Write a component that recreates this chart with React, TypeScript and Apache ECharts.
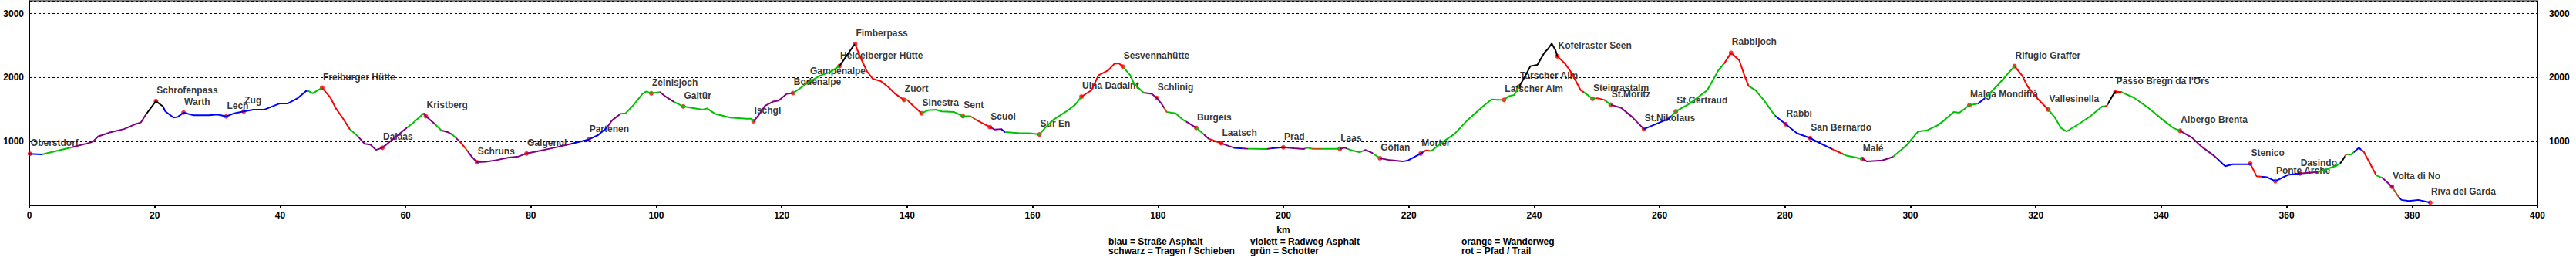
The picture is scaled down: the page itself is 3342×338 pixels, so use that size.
import React, { useEffect, useRef } from 'react';
import * as echarts from 'echarts';

// Elevation profile (km, m)
const profileKm = [
  0, 2.0, 6.8, 10.1, 11.0, 11.6, 12.7, 15.1, 16.9, 17.8, 18.6, 20.2, 21.3, 21.7, 23.0, 23.7, 24.6, 26.1, 28.7, 30.0,
  31.4, 32.7, 34.2, 35.7, 37.5, 39.9, 41.2, 42.8, 44.3, 45.2, 46.7, 48.0, 48.9, 50.0, 51.1, 52.4, 53.5, 54.4, 55.3, 56.3,
  60.2, 61.2, 62.9, 63.25, 64.6, 65.7, 66.8, 67.5, 68.6, 69.5, 70.6, 71.4, 72.8, 74.5, 76.3, 78.0, 79.3, 80.7, 83.7, 86.4,
  89.2, 90.7, 92.1, 92.9, 94.3, 95.1, 96.4, 97.8, 98.4, 99.2, 100.6, 101.5, 102.8, 104.3, 105.7, 107.4, 108.1, 109.4, 111.8, 114.4,
  115.2, 115.5, 116.4, 117.3, 118.6, 119.5, 120.8, 121.8, 122.5, 124.4, 126.2, 127.5, 129.2, 131.4, 131.7, 132.5, 133.6, 134.5, 135.8, 136.9,
  138.0, 139.5, 140.0, 140.9, 142.3, 143.3, 144.6, 145.5, 147.5, 148.9, 150.1, 151.2, 153.2, 154.0, 155.0, 155.6, 158.0, 159.5, 161.1, 162.1,
  163.4, 165.4, 166.8, 167.8, 169.4, 170.5, 172.1, 173.1, 173.8, 174.4, 175.6, 176.2, 177.7, 179.0, 179.8, 180.6, 181.4, 182.8, 183.9, 185.0,
  186.1, 187.0, 188.1, 190.1, 192.1, 194.1, 197.3, 198.2, 200.0, 201.7, 203.2, 203.9, 204.7, 206.1, 209.0, 209.8, 210.9, 212.2, 213.1, 214.2,
  215.4, 217.0, 219.0, 219.9, 221.9, 222.7, 223.6, 225.4, 227.3, 229.3, 231.9, 233.2, 234.1, 235.2, 235.9, 236.8, 237.6, 238.5, 239.4, 240.5,
  241.6, 242.2, 242.8, 243.4, 243.7, 244.9, 245.8, 246.7, 247.4, 248.0, 249.3, 250.1, 251.2, 252.2, 253.9, 255.6, 257.5, 260.0, 261.5, 262.6,
  264.8, 267.6, 269.4, 270.3, 271.4, 272.7, 273.6, 274.2, 275.3, 276.6, 278.4, 280.1, 281.9, 284.0, 285.8, 288.0, 289.8, 292.3, 293.1, 295.5,
  297.2, 299.4, 301.2, 302.7, 304.3, 305.1, 306.9, 307.8, 309.4, 310.8, 311.9, 313.9, 316.6, 317.8, 318.7, 320.1, 322.0, 323.1, 324.0, 324.9,
  327.1, 328.8, 330.6, 331.3, 332.3, 332.7, 333.6, 333.8, 335.6, 337.8, 340.4, 341.9, 343.0, 344.9, 346.4, 348.4, 349.1, 350.2, 351.4, 353.9,
  354.2, 355.2, 356.9, 358.2, 360.2, 362.1, 365.0, 368.0, 368.7, 369.5, 370.3, 371.5, 372.3, 373.3, 374.3, 375.3, 376.8, 377.8, 378.3, 379.5,
  381.0, 382.9
];
const profileElev = [
  807, 798, 909, 992, 1080, 1099, 1137, 1194, 1270, 1297, 1422, 1631, 1548, 1471, 1373, 1384, 1452, 1411, 1411, 1422,
  1392, 1441, 1471, 1498, 1498, 1593, 1593, 1677, 1802, 1753, 1840, 1688, 1517, 1365, 1194, 1080, 963, 951, 868, 901,
  1213, 1289, 1441, 1395, 1281, 1175, 1144, 1106, 1004, 901, 757, 675, 683, 708, 745, 765, 811, 840, 901, 963,
  1030, 1099, 1213, 1327, 1433, 1441, 1574, 1745, 1783, 1753, 1772, 1700, 1620, 1548, 1525, 1498, 1517, 1430, 1373, 1354,
  1354, 1316, 1422, 1555, 1624, 1639, 1745, 1757, 1802, 1935, 2033, 2075, 2178, 2490, 2523, 2324, 2095, 1981, 1943, 1859,
  1753, 1650, 1650, 1563, 1441, 1487, 1498, 1471, 1460, 1395, 1395, 1327, 1224, 1186, 1194, 1148, 1129, 1129, 1110, 1224,
  1346, 1471, 1574, 1700, 1802, 2033, 2116, 2220, 2220, 2170, 2033, 1901, 1764, 1745, 1681, 1586, 1460, 1441, 1346, 1281,
  1213, 1137, 1042, 971, 901, 889, 881, 893, 909, 893, 881, 901, 885, 885, 885, 901, 860, 831, 868, 819,
  737, 708, 687, 704, 811, 860, 852, 992, 1118, 1327, 1555, 1658, 1650, 1650, 1707, 1726, 1859, 2012, 2178, 2199,
  2386, 2448, 2531, 2427, 2332, 2220, 2095, 1935, 1802, 1764, 1669, 1677, 1650, 1574, 1525, 1384, 1194, 1296, 1357, 1471,
  1593, 1802, 2116, 2220, 2386, 2270, 2012, 1867, 1802, 1650, 1403, 1270, 1129, 1053, 963, 860, 778, 728, 687, 704,
  757, 942, 1156, 1175, 1251, 1308, 1460, 1449, 1567, 1593, 1677, 1878, 2178, 2033, 1859, 1688, 1498, 1365, 1213, 1156,
  1289, 1403, 1548, 1555, 1726, 1776, 1776, 1764, 1688, 1536, 1327, 1213, 1167, 1061, 922, 778, 716, 613, 642, 642,
  654, 457, 440, 379, 477, 498, 523, 621, 675, 798, 798, 901, 839, 654, 469, 428, 292, 140, 86, 70,
  86, 45
];

// Surface type changes (start km, type code)
const surfaceFromKm = [
  0, 2.0, 6.8, 18.6, 21.5, 44.3, 46.7, 51.1, 52.4, 60.2, 62.9, 64.6, 65.7, 67.5, 68.0, 68.6, 69.5, 70.0, 86.4, 92.1,
  94.3, 100.6, 102.8, 115.5, 121.8, 129.2, 131.7, 139.5, 140.2, 142.3, 150.0, 151.2, 153.2, 155.0, 155.6, 167.8, 174.4, 177.7, 180.9, 181.4,
  184.5, 186.1, 187.3, 188.1, 190.1, 192.1, 193.3, 194.3, 197.4, 198.2, 200.3, 203.5, 204.5, 206.1, 209.0, 210.2, 212.8, 214.3, 215.4, 219.6,
  222.2, 223.4, 237.6, 243.7, 248.0, 249.8, 251.2, 252.2, 257.5, 261.8, 270.3, 274.2, 278.4, 287.5, 289.4, 292.3, 297.2, 310.8, 311.9, 316.6,
  322.0, 331.0, 331.6, 332.7, 333.6, 343.0, 348.8, 354.2, 356.0, 362.1, 365.0, 368.5, 369.3, 369.8, 370.7, 371.9, 374.3, 375.2, 377.0, 378.0
];
const surfaceType = [
  'b', 'g', 'v', 'k', 'b', 'g', 'r', 'g', 'v', 'g', 'v', 'g', 'v', 'g', 'v', 'r', 'o', 'v', 'b', 'v',
  'g', 'v', 'g', 'v', 'g', 'k', 'r', 'g', 'r', 'g', 'o', 'r', 'v', 'b', 'g', 'r', 'g', 'v', 'o', 'g',
  'v', 'g', 'v', 'r', 'v', 'b', 'v', 'g', 'v', 'b', 'v', 'g', 'o', 'g', 'v', 'g', 'v', 'g', 'v', 'b',
  'r', 'g', 'k', 'r', 'g', 'r', 'g', 'v', 'b', 'g', 'r', 'g', 'b', 'r', 'g', 'v', 'g', 'b', 'g', 'r',
  'g', 'r', 'k', 'r', 'g', 'v', 'b', 'r', 'b', 'v', 'g', 'k', 'o', 'g', 'b', 'r', 'g', 'v', 'o', 'b'
];

// Waypoints
const placeNames = [
  'Oberstdorf', 'Schrofenpass', 'Warth', 'Lech', 'Zug', 'Freiburger Hütte', 'Dalaas', 'Kristberg', 'Schruns', 'Galgenul',
  'Partenen', 'Zeinisjoch', 'Galtür', 'Ischgl', 'Bodenalpe', 'Gampenalpe', 'Heidelberger Hütte', 'Fimberpass', 'Zuort', 'Sinestra',
  'Sent', 'Scuol', 'Sur En', 'Uina Dadaint', 'Sesvennahütte', 'Schlinig', 'Burgeis', 'Laatsch', 'Prad', 'Laas',
  'Göflan', 'Morter', 'Latscher Alm', 'Tarscher Alm', 'Kofelraster Seen', 'Steinrastalm', 'St.Moritz', 'St.Nikolaus', 'St.Gertraud', 'Rabbijoch',
  'Rabbi', 'San Bernardo', 'Malé', 'Malga Mondifrà', 'Rifugio Graffer', 'Vallesinella', "Passo Bregn da l'Ors", 'Albergo Brenta', 'Stenico', 'Ponte Arche',
  'Dasindo', 'Volta di No', 'Riva del Garda'
];
const placeKm = [
  0.1, 20.2, 24.6, 31.4, 34.2, 46.7, 56.3, 63.25, 71.4, 79.3,
  89.2, 99.2, 104.3, 115.5, 121.8, 124.4, 129.2, 131.7, 139.5, 142.3,
  148.9, 153.2, 161.1, 167.8, 174.4, 179.8, 186.1, 190.1, 200.0, 209.0,
  215.4, 221.9, 235.2, 237.6, 243.7, 249.3, 252.2, 257.5, 262.6, 271.4,
  280.1, 284.0, 292.3, 309.4, 316.6, 322.0, 332.7, 343.0, 354.2, 358.2,
  362.1, 376.8, 382.9
];
const placeElev = [
  807, 1631, 1452, 1392, 1471, 1840, 901, 1395, 675, 811,
  1030, 1753, 1548, 1316, 1757, 1935, 2178, 2523, 1650, 1441,
  1395, 1224, 1110, 1700, 2170, 1681, 1213, 971, 909, 885,
  737, 811, 1650, 1859, 2332, 1669, 1574, 1194, 1471, 2386,
  1270, 1053, 728, 1567, 2178, 1498, 1776, 1167, 654, 379,
  498, 292, 45
];

const yLabelValues = [1000, 2000, 3000];
const xAxisTitle = 'km';
const legendColumn1 = ['blau = Straße Asphalt', 'schwarz = Tragen / Schieben'];
const legendColumn2 = ['violett = Radweg Asphalt', 'grün = Schotter'];
const legendColumn3 = ['orange = Wanderweg', 'rot = Pfad / Trail'];

const surfaceColors: Record<string, string> = {
  b: '#0000ff',
  g: '#00c000',
  v: '#800080',
  k: '#000000',
  r: '#ff0000',
  o: '#c05010',
};

const FONT = '"Liberation Sans", Arial, sans-serif';

export default function App() {
  const ref = useRef<HTMLDivElement>(null);

  useEffect(() => {
    document.body.style.margin = '0';
    if (!ref.current) return;
    const chart = echarts.init(ref.current, undefined, { renderer: 'svg' });

    const lineData = profileKm.map((k, i) => [k, profileElev[i]]);
    const pointData = placeNames.map((n, i) => ({ name: n, value: [placeKm[i], placeElev[i]] }));
    const pieces = surfaceFromKm.map((s, i) => ({
      gte: s,
      lt: i + 1 < surfaceFromKm.length ? surfaceFromKm[i + 1] : 401,
      color: surfaceColors[surfaceType[i]],
    }));

    const textStyle = { fontFamily: FONT, fontWeight: 'bold' as const, fontSize: 12, color: '#000' };

    const legendText = (lines: string[], x: number) =>
      lines.map((t, i) => ({
        type: 'text',
        x,
        y: 313 + i * 11.6,
        style: {
          text: t,
          fill: '#000',
          font: `bold 12px ${FONT}`,
          textVerticalAlign: 'middle',
          verticalAlign: 'middle',
        },
      }));

    const yAxisCommon = {
      type: 'value',
      min: 0,
      max: 3200,
      interval: 1000,
      axisLine: { show: true, lineStyle: { color: '#000', width: 1 } },
      axisTick: { show: false },
      splitLine: { show: true, lineStyle: { color: '#000', type: [3, 3], width: 1 } },
    };

    chart.setOption({
      animation: false,
      grid: { left: 38, right: 50, top: 1, bottom: 72, show: true, borderColor: '#000', borderWidth: 1 },
      xAxis: {
        type: 'value',
        min: 0,
        max: 400,
        interval: 20,
        name: xAxisTitle,
        nameLocation: 'middle',
        nameGap: 26,
        nameTextStyle: textStyle,
        axisLine: { show: true, lineStyle: { color: '#000', width: 1 } },
        axisTick: { show: true, length: 4, lineStyle: { color: '#000', width: 2 } },
        axisLabel: { ...textStyle, margin: 7 },
        splitLine: { show: false },
      },
      yAxis: [
        {
          ...yAxisCommon,
          position: 'left',
          axisLabel: {
            ...textStyle,
            margin: 7,
            formatter: (v: number) => (yLabelValues.includes(v) ? String(v) : ''),
          },
        },
        {
          ...yAxisCommon,
          position: 'right',
          splitLine: { show: false },
          axisLabel: {
            ...textStyle,
            margin: 15,
            formatter: (v: number) => (yLabelValues.includes(v) ? String(v) : ''),
          },
        },
      ],
      visualMap: {
        type: 'piecewise',
        show: false,
        dimension: 0,
        seriesIndex: 1,
        pieces,
        outOfRange: { color: '#0000ff' },
      },
      series: [
        {
          type: 'scatter',
          data: pointData,
          symbol: 'circle',
          symbolSize: 6,
          itemStyle: { color: '#ff0000' },
          label: {
            show: true,
            position: 'inside',
            formatter: '{b}',
            align: 'left',
            verticalAlign: 'middle',
            offset: [1, -14],
            ...textStyle,
          },
          z: 2,
          silent: true,
        },
        {
          type: 'line',
          data: lineData,
          showSymbol: false,
          symbol: 'none',
          lineStyle: { width: 2 },
          z: 3,
          silent: true,
        },
      ],
      graphic: [
        ...legendText(legendColumn1, 1438),
        ...legendText(legendColumn2, 1622),
        ...legendText(legendColumn3, 1896),
      ],
    });

    return () => chart.dispose();
  }, []);

  return <div ref={ref} style={{ position: 'absolute', left: 0, top: 0, width: 3342, height: 338 }} />;
}
